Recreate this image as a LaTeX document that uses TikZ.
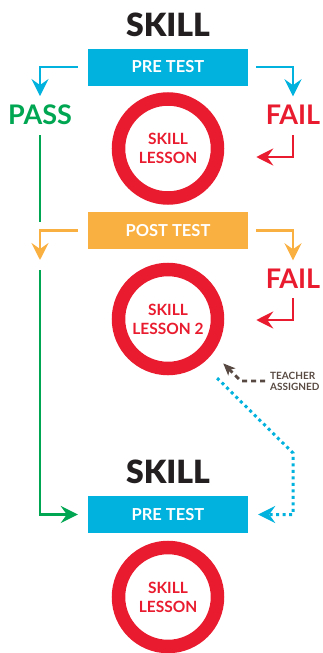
\documentclass[tikz,border=0pt]{standalone}
\usepackage{fontspec}
\setmainfont{Lato}
\newfontfamily\latoblack{Lato Black}
\usetikzlibrary{arrows.meta,calc}
\definecolor{ccyan}{RGB}{0,178,221}
\definecolor{corange}{RGB}{250,176,64}
\definecolor{cred}{RGB}{232,28,46}
\definecolor{cgreen}{RGB}{0,166,81}
\definecolor{cdark}{RGB}{35,31,32}
\definecolor{cbrown}{RGB}{88,74,66}
\begin{document}
\begin{tikzpicture}[x=1pt,y=1pt,
  title/.style={font=\fontsize{32}{36}\selectfont\latoblack, text=cdark, inner sep=0pt, anchor=base},
  testbox/.style={minimum width=160pt, minimum height=37pt, inner sep=0pt, text=white, font=\fontsize{16.5}{18}\selectfont\bfseries},
  verdict/.style={font=\fontsize{27}{30}\selectfont\bfseries, inner sep=0pt, anchor=base},
  lesson/.style={circle, draw=cred, line width=13.5pt, minimum size=99pt, inner sep=0pt, align=center, text=cred, font=\fontsize{15.5}{19}\selectfont\bfseries},
  conn/.style={line width=2.7pt, -{Stealth[length=17pt,width=17pt,inset=6pt]}},
  plain/.style={line width=2.7pt},
]
\useasboundingbox (0,0) rectangle (322,-653);
% first block
\node[title] (title1) at (168,-36) {SKILL};
\node[testbox, fill=ccyan] (pre1) at (168,-67) {PRE TEST};
\node[verdict, text=cgreen] (pass) at (40,-124) {PASS};
\node[verdict, text=cred] (fail1) at (293,-124) {FAIL};
\node[lesson] (les1) at (168,-148.5) {SKILL\\LESSON};
% post test
\node[testbox, fill=corange] (post) at (168,-230.5) {POST TEST};
\node[verdict, text=cred] (fail2) at (293,-288) {FAIL};
\node[lesson] (les2) at (168,-319) {SKILL\\LESSON 2};
\node[anchor=west, align=left, inner sep=0pt, text=cbrown, font=\fontsize{10}{11}\selectfont\bfseries] (teach) at (270,-381) {TEACHER\\ASSIGNED};
% second block
\node[title] (title2) at (168,-483) {SKILL};
\node[testbox, fill=ccyan] (pre2) at (168,-514.5) {PRE TEST};
\node[lesson] (les3) at (168,-597) {SKILL\\LESSON};
% coordinates
\coordinate (g1) at (40,-222);
\coordinate (g2) at (40,-270);
\coordinate (bc) at (293,-453);
% connectors
\draw[conn, ccyan] ([xshift=-10pt]pre1.west) -| ([yshift=8pt]pass.north);
\draw[conn, ccyan] ([xshift=8pt]pre1.east) -| ([yshift=8pt]fail1.north);
\draw[conn, cred] ([yshift=-11pt]fail1.south) |- ([shift={(32pt,-8.5pt)}]les1.east);
\draw[plain, cgreen] ([yshift=-11pt]pass.south) -- (g1);
\draw[conn, corange] ([xshift=-10pt]post.west) -| ([yshift=10pt]g2);
\draw[conn, corange] ([xshift=8pt]post.east) -| ([yshift=8pt]fail2.north);
\draw[conn, cred] ([yshift=-10pt]fail2.south) |- ([shift={(32pt,-1pt)}]les2.east);
\draw[conn, cgreen] (g2) |- ([xshift=-10pt]pre2.west);
\draw[line width=2.8pt, cbrown, dash pattern=on 5pt off 4pt, -{Stealth[length=12pt,width=10pt,inset=3pt]}] ([xshift=-5pt]teach.west) -- ++(-24pt,0) -- ([shift={(11.5pt,-9pt)}]les2.-39);
\draw[line width=3pt, ccyan, dash pattern=on 3pt off 3.5pt, -{Stealth[length=17pt,width=17pt,inset=6pt]}] ([shift={(13pt,-16pt)}]les2.-50) -- (bc) |- ([xshift=10pt]pre2.east);
\end{tikzpicture}
\end{document}
